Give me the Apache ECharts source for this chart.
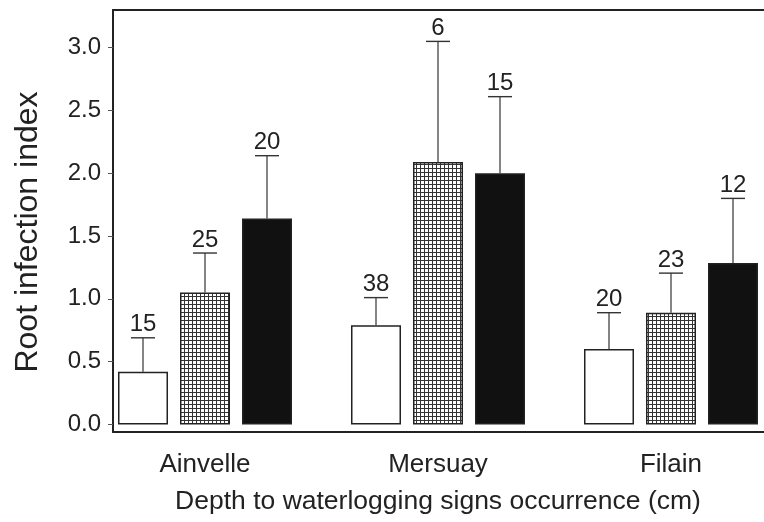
<!DOCTYPE html>
<html>
<head>
    <meta charset="UTF-8">
    <title>Root infection index</title>
    <script src="https://cdn.jsdelivr.net/npm/echarts@6/dist/echarts.min.js"></script>
    <style type="text/css">
        *{padding:0;margin:0}
        body{background:#fff}
        #chart{width:764px;height:522px}
    </style>
</head>
<body>
<div id="chart"></div>
<script type="text/javascript">
    // sites along x
    var sites = ['Ainvelle', 'Mersuay', 'Filain'];
    // mean root infection index, one array per depth class (white / hatched / black bars)
    var meanWhite = [0.42, 0.79, 0.60];
    var meanHatch = [1.05, 2.09, 0.89];
    var meanBlack = [1.64, 2.00, 1.285];
    // top of the error bar (mean + SE)
    var upWhite = [0.69, 1.01, 0.89];
    var upHatch = [1.365, 3.05, 1.205];
    var upBlack = [2.14, 2.61, 1.80];
    // number of trees above each bar
    var nWhite = [15, 38, 20];
    var nHatch = [25, 6, 23];
    var nBlack = [20, 15, 12];
    var yTicks = [0, 0.5, 1.0, 1.5, 2.0, 2.5, 3.0];

    var FONT = '"Liberation Sans", Arial, sans-serif';
    var INK = '#222';
    var BAR_W = 50;
    var STEP = 62; // bar width + gap inside one group

    // hatched fill: fine square grid
    var cv = document.createElement('canvas');
    cv.width = 4; cv.height = 4;
    var cx = cv.getContext('2d');
    cx.fillStyle = '#fff';
    cx.fillRect(0, 0, 4, 4);
    cx.fillStyle = '#333';
    cx.fillRect(0, 0, 4, 1);
    cx.fillRect(0, 0, 1, 4);

    function errRows(means, ups, ns){
        return means.map(function(m, i){ return [i, m, ups[i], ns[i]]; });
    }

    function errRender(k){
        return function(params, api){
            var c = api.coord([api.value(0), api.value(1)]);
            var hi = api.coord([api.value(0), api.value(2)]);
            var x = c[0] + (k - 1) * STEP;
            return {
                type: 'group',
                children: [
                    {type: 'line', shape: {x1: x, y1: c[1], x2: x, y2: hi[1]}, style: {stroke: '#333', lineWidth: 1.2}},
                    {type: 'line', shape: {x1: x - 12, y1: hi[1], x2: x + 12, y2: hi[1]}, style: {stroke: '#333', lineWidth: 1.4}},
                    {type: 'text', style: {text: String(api.value(3)), x: x, y: hi[1] - 1, align: 'center', verticalAlign: 'bottom',
                        font: '24px ' + FONT, fill: INK}}
                ]
            };
        };
    }

    var yMin = -0.06, yMax = 3.3;

    var option = {
        animation: false,
        grid: [
            {left: 113, right: 0, top: 10, bottom: 90},   // frame + y axis
            {left: 205, right: 93, top: 10, bottom: 90}   // bars: group centres sit on the grid edges
        ],
        xAxis: [
            {gridIndex: 0, type: 'value', min: 0, max: 1, position: 'bottom',
                axisLine: {show: true, onZero: false, lineStyle: {color: INK, width: 2}},
                axisTick: {show: false}, axisLabel: {show: false}, splitLine: {show: false}},
            {gridIndex: 0, type: 'value', min: 0, max: 1, position: 'top',
                axisLine: {show: true, onZero: false, lineStyle: {color: INK, width: 2}},
                axisTick: {show: false}, axisLabel: {show: false}, splitLine: {show: false}},
            {gridIndex: 1, type: 'category', data: sites, position: 'bottom', boundaryGap: false,
                axisLine: {show: false, onZero: false}, axisTick: {show: false},
                axisLabel: {margin: 20, fontSize: 26, fontFamily: FONT, color: INK},
                name: 'Depth to waterlogging signs occurrence (cm)', nameLocation: 'middle', nameGap: 56,
                nameTextStyle: {fontSize: 26.5, fontFamily: FONT, color: INK}}
        ],
        yAxis: [
            {gridIndex: 0, type: 'value', min: yMin, max: yMax,
                axisLine: {show: true, onZero: false, lineStyle: {color: INK, width: 2}},
                axisTick: {show: true, customValues: yTicks, length: 5, lineStyle: {color: '#555'}},
                axisLabel: {customValues: yTicks, margin: 12, fontSize: 24, fontFamily: FONT, color: INK,
                    formatter: function(v){ return v.toFixed(1); }},
                splitLine: {show: false},
                name: 'Root infection index', nameLocation: 'middle', nameGap: 69,
                nameTextStyle: {fontSize: 32, fontFamily: FONT, color: INK, padding: [0, 22, 0, 0]}},
            {gridIndex: 1, type: 'value', min: yMin, max: yMax, show: false}
        ],
        series: [
            {name: 'white', type: 'bar', xAxisIndex: 2, yAxisIndex: 1, data: meanWhite,
                barWidth: BAR_W, barGap: '24%',
                itemStyle: {color: '#fff', borderColor: INK, borderWidth: 1.5}},
            {name: 'hatched', type: 'bar', xAxisIndex: 2, yAxisIndex: 1, data: meanHatch,
                barWidth: BAR_W, barGap: '24%',
                itemStyle: {color: {image: cv, repeat: 'repeat'}, borderColor: INK, borderWidth: 1.5}},
            {name: 'black', type: 'bar', xAxisIndex: 2, yAxisIndex: 1, data: meanBlack,
                barWidth: BAR_W, barGap: '24%',
                itemStyle: {color: '#111', borderColor: INK, borderWidth: 1.5}},
            {type: 'custom', xAxisIndex: 2, yAxisIndex: 1, renderItem: errRender(0), data: errRows(meanWhite, upWhite, nWhite), z: 3},
            {type: 'custom', xAxisIndex: 2, yAxisIndex: 1, renderItem: errRender(1), data: errRows(meanHatch, upHatch, nHatch), z: 3},
            {type: 'custom', xAxisIndex: 2, yAxisIndex: 1, renderItem: errRender(2), data: errRows(meanBlack, upBlack, nBlack), z: 3}
        ]
    };

    var chart = echarts.init(document.getElementById('chart'));
    chart.setOption(option);
</script>
</body>
</html>
